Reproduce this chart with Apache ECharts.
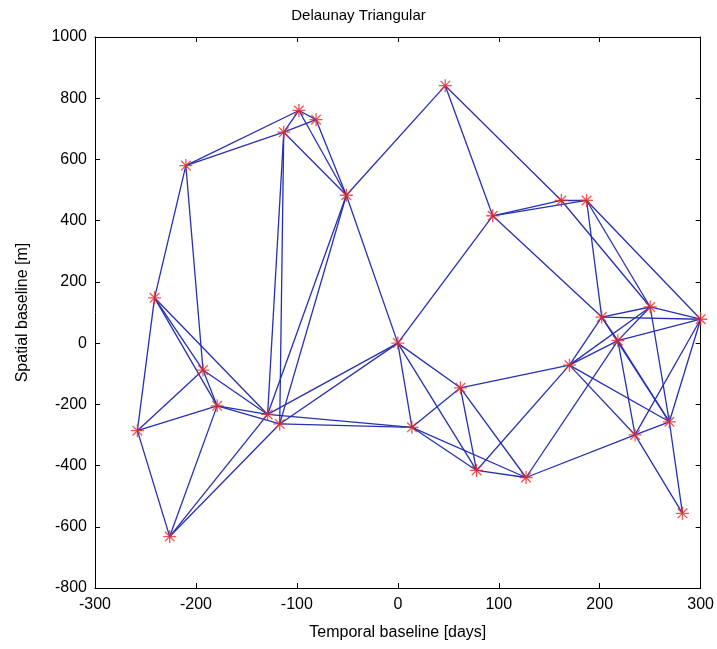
<!DOCTYPE html>
<html>
<head>
<meta charset="utf-8">
<script src="https://cdn.jsdelivr.net/npm/echarts@6/dist/echarts.min.js"></script>
<style>
  html, body { margin: 0; padding: 0; background: #fff; }
  #chart { width: 717px; height: 649px; }
</style>
</head>
<body>
<div id="chart"></div>
<script>
// acquisitions: temporal baseline [days], spatial baseline [m]
const tempBaseline = [-258, -241, -226, -210, -193, -179, -129, -117, -113, -98,
  -81, -51, 0, 14, 47, 62, 78, 94, 127, 162, 170, 187, 202, 218, 235, 250, 269, 282, 300];
const spatBaseline = [-286, 148, -632, 580, -88, -205, -233, -264, 689, 760,
  730, 483, 0, -275, 841, -146, -416, 416, -439, 466, -72, 466, 85, 8, -300, 118, -257, -556, 78];

// network links, as pairs of acquisition indexes
const edges = [
  [3, 9], [3, 8], [3, 1], [3, 4],
  [8, 9], [8, 10], [9, 10], [9, 11], [10, 11], [8, 11],
  [8, 6], [8, 7], [11, 6], [11, 7], [11, 12], [11, 14],
  [14, 17], [14, 19],
  [1, 0], [1, 4], [1, 5], [1, 6], [0, 4], [0, 5], [0, 2],
  [4, 5], [4, 6], [5, 6], [5, 7], [5, 2], [2, 6], [2, 7],
  [6, 12], [7, 12], [6, 13], [7, 13],
  [12, 15], [12, 13], [12, 16], [12, 17],
  [15, 13], [15, 16], [15, 18], [15, 20], [13, 16], [13, 18], [16, 18],
  [16, 20], [18, 23], [18, 24],
  [17, 19], [17, 21], [19, 21], [17, 22], [19, 25], [21, 22], [21, 25], [21, 28],
  [22, 25], [22, 28], [25, 28], [22, 23], [22, 20], [22, 26], [23, 26], [23, 24],
  [25, 23], [25, 20], [25, 26], [28, 23], [28, 26], [28, 24],
  [20, 23], [20, 26], [20, 24],
  [24, 26], [24, 27], [26, 27]
];

const xTicks = { min: -300, max: 300, interval: 100 };
const yTicks = { min: -800, max: 1000, interval: 200 };

const points = tempBaseline.map((t, i) => [t, spatBaseline[i]]);
const links = edges.map(([a, b]) => ({ coords: [points[a], points[b]] }));

// matlab style '*' marker
const STAR = 'path://M10.8,0H13.2V24H10.8Z M0,10.8H24V13.2H0Z M2.3,4L4,2.3L21.7,20L20,21.7Z M20,2.3L21.7,4L4,21.7L2.3,20Z';
const FONT = 'Liberation Sans, Arial, sans-serif';

const chart = echarts.init(document.getElementById('chart'), null, { renderer: 'canvas' });

const tickAxis = (extra) => Object.assign({
  type: 'value',
  axisLine: { show: true, onZero: false, lineStyle: { color: '#000', width: 1 } },
  axisTick: { show: true, inside: true, length: 5, lineStyle: { color: '#000' } },
  splitLine: { show: false },
  axisLabel: { show: false }
}, extra);

chart.setOption({
  animation: false,
  backgroundColor: '#fff',
  title: {
    text: 'Delaunay Triangular',
    left: 'center',
    top: 3,
    textStyle: { fontFamily: FONT, fontSize: 15, fontWeight: 'normal', color: '#000' }
  },
  grid: { left: 95, right: 15, top: 37, bottom: 61 },
  xAxis: [
    tickAxis({
      position: 'bottom', min: xTicks.min, max: xTicks.max, interval: xTicks.interval,
      name: 'Temporal baseline [days]', nameLocation: 'middle', nameGap: 37,
      nameTextStyle: { fontFamily: FONT, fontSize: 16, color: '#000' },
      axisLabel: { show: true, fontFamily: FONT, fontSize: 16, color: '#000', margin: 9 }
    }),
    tickAxis({ position: 'top', min: xTicks.min, max: xTicks.max, interval: xTicks.interval })
  ],
  yAxis: [
    tickAxis({
      position: 'left', min: yTicks.min, max: yTicks.max, interval: yTicks.interval,
      name: 'Spatial baseline [m]', nameLocation: 'middle', nameGap: 64,
      nameTextStyle: { fontFamily: FONT, fontSize: 16, color: '#000' },
      axisLabel: {
        show: true, fontFamily: FONT, fontSize: 16, color: '#000', margin: 8,
        formatter: (v) => String(v)
      }
    }),
    tickAxis({ position: 'right', min: yTicks.min, max: yTicks.max, interval: yTicks.interval })
  ],
  series: [
    {
      type: 'lines',
      coordinateSystem: 'cartesian2d',
      data: links,
      silent: true,
      lineStyle: { color: '#2630b0', width: 1.3, opacity: 1 }
    },
    {
      type: 'scatter',
      data: points,
      symbol: STAR,
      symbolSize: 13,
      itemStyle: { color: '#e62a2a' },
      silent: true
    }
  ]
});
</script>
</body>
</html>
